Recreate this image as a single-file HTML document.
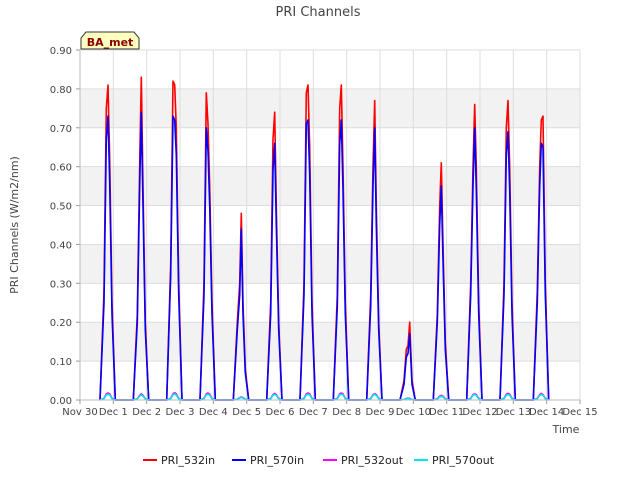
<!DOCTYPE html>
<html><head><meta charset="utf-8"><style>
body{margin:0;background:#fff;font-family:"DejaVu Sans","Liberation Sans",sans-serif}
svg text{font-family:"DejaVu Sans","Liberation Sans",sans-serif}
</style></head><body>
<svg id="c" width="640" height="480">
<rect x="0" y="0" width="640" height="480" fill="#fff"/>
<g id="bands"></g><g id="grid"></g><g id="series"></g><g id="axes"></g>
<text x="318" y="16" text-anchor="middle" font-size="13" fill="#444">PRI Channels</text>
<text x="566" y="433" text-anchor="middle" font-size="11" fill="#444">Time</text>
<text transform="translate(18,225) rotate(-90)" text-anchor="middle" font-size="11" fill="#444">PRI Channels (W/m2/nm)</text>
<g>
<path d="M81,49 L81,38 L86,32 L134,32 L139,38 L139,49 Z" fill="#ffffc0" stroke="#333" stroke-width="1"/>
<text x="110" y="46" text-anchor="middle" font-size="11" font-weight="bold" fill="#8b0000">BA_met</text>
</g>
<g id="legend"></g>
</svg>
<script>
const xTicks=["Nov 30","Dec 1","Dec 2","Dec 3","Dec 4","Dec 5","Dec 6","Dec 7","Dec 8","Dec 9","Dec 10","Dec 11","Dec 12","Dec 13","Dec 14","Dec 15"];
const yTicks=[0,0.1,0.2,0.3,0.4,0.5,0.6,0.7,0.8,0.9];
const dayCenters=[0.84,1.84,2.84,3.84,4.84,5.84,6.84,7.84,8.84,9.84,10.84,11.84,12.84,13.84];
const offsets=[-0.24,-0.12,-0.05,0,0.05,0.12,0.22];
const pri532in=[[0,0.28,0.75,0.81,0.62,0.25,0],[0,0.22,0.61,0.83,0.55,0.2,0],[0,0.35,0.82,0.81,0.7,0.3,0],[0,0.3,0.79,0.71,0.55,0.25,0],[0,0.2,0.3,0.48,0.25,0.08,0],[0,0.25,0.67,0.74,0.5,0.2,0],[0,0.3,0.79,0.81,0.65,0.25,0],[0,0.27,0.75,0.81,0.6,0.25,0],[0,0.27,0.6,0.77,0.5,0.2,0],[0,0.05,0.13,0.14,0.2,0.05,0],[0,0.22,0.5,0.61,0.4,0.15,0],[0,0.3,0.6,0.76,0.6,0.25,0],[0,0.3,0.7,0.77,0.6,0.25,0],[0,0.28,0.6,0.72,0.73,0.3,0]];
const pri570in=[[0,0.25,0.67,0.73,0.56,0.22,0],[0,0.2,0.55,0.74,0.5,0.18,0],[0,0.32,0.73,0.72,0.63,0.27,0],[0,0.27,0.7,0.64,0.5,0.22,0],[0,0.18,0.27,0.44,0.22,0.07,0],[0,0.22,0.59,0.66,0.45,0.18,0],[0,0.27,0.71,0.72,0.58,0.22,0],[0,0.24,0.66,0.72,0.54,0.22,0],[0,0.24,0.55,0.70,0.45,0.18,0],[0,0.04,0.11,0.12,0.17,0.04,0],[0,0.2,0.45,0.55,0.36,0.13,0],[0,0.27,0.55,0.70,0.54,0.22,0],[0,0.27,0.63,0.69,0.54,0.22,0],[0,0.25,0.55,0.66,0.65,0.27,0]];
const pri532out=[[0,0.004,0.016,0.018,0.016,0.004,0],[0,0.003,0.012,0.016,0.012,0.003,0],[0,0.004,0.016,0.019,0.016,0.004,0],[0,0.004,0.016,0.018,0.015,0.004,0],[0,0.002,0.006,0.008,0.006,0.002,0],[0,0.004,0.014,0.017,0.014,0.004,0],[0,0.004,0.016,0.018,0.016,0.004,0],[0,0.004,0.016,0.018,0.016,0.004,0],[0,0.004,0.014,0.016,0.014,0.004,0],[0,0.001,0.004,0.005,0.004,0.001,0],[0,0.003,0.01,0.012,0.01,0.003,0],[0,0.004,0.014,0.016,0.014,0.004,0],[0,0.004,0.015,0.017,0.015,0.004,0],[0,0.004,0.014,0.017,0.014,0.004,0]];
const pri570out=[[0,0.003,0.013,0.015,0.013,0.003,0],[0,0.003,0.01,0.013,0.01,0.003,0],[0,0.003,0.013,0.016,0.013,0.003,0],[0,0.003,0.013,0.015,0.012,0.003,0],[0,0.002,0.005,0.007,0.005,0.002,0],[0,0.003,0.012,0.014,0.012,0.003,0],[0,0.003,0.013,0.015,0.013,0.003,0],[0,0.003,0.013,0.015,0.013,0.003,0],[0,0.003,0.012,0.014,0.012,0.003,0],[0,0.001,0.003,0.004,0.003,0.001,0],[0,0.002,0.008,0.01,0.008,0.002,0],[0,0.003,0.012,0.014,0.012,0.003,0],[0,0.003,0.012,0.014,0.012,0.003,0],[0,0.003,0.012,0.014,0.012,0.003,0]];
const L=80,R=580,T=50,B=400;
const xs=d=>L+(d/15)*(R-L);
const ys=v=>B-(v/0.9)*(B-T);
const NS="http://www.w3.org/2000/svg";
function mk(tag,attrs,parent){const e=document.createElementNS(NS,tag);for(const k in attrs)e.setAttribute(k,attrs[k]);parent.appendChild(e);return e;}
const bands=document.getElementById('bands'),grid=document.getElementById('grid'),axes=document.getElementById('axes'),ser=document.getElementById('series'),leg=document.getElementById('legend');
mk('rect',{x:L,y:T,width:R-L,height:B-T,fill:'#fff'},bands);
for(let i=0;i<yTicks.length-1;i++){if(i%2===1){const r=mk('rect',{x:L,y:ys(yTicks[i+1]),width:R-L,height:ys(yTicks[i])-ys(yTicks[i+1]),fill:'#f2f2f2'},bands);}}
yTicks.forEach(v=>{const y=ys(v);
const g=mk('line',{x1:L,x2:R,y1:y,y2:y,stroke:'#ddd','stroke-width':1},grid);
const t=mk('text',{x:L-8,y:y+4,'text-anchor':'end','font-size':10,fill:'#444'},axes);t.textContent=v.toFixed(2);
mk('line',{x1:L-4,x2:L,y1:y,y2:y,stroke:'#999'},axes);});
xTicks.forEach((s,i)=>{const x=xs(i);
const g=mk('line',{x1:x,x2:x,y1:T,y2:B,stroke:'#ddd','stroke-width':1},grid);
mk('line',{x1:x,x2:x,y1:B,y2:B+4,stroke:'#999'},axes);
const t=mk('text',{x:x,y:B+15,'text-anchor':'middle','font-size':10,fill:'#444'},axes);t.textContent=s;});
mk('line',{x1:L,x2:L,y1:T,y2:B,stroke:'#bbb'},axes);
mk('line',{x1:L,x2:R,y1:B,y2:B,stroke:'#bbb'},axes);
const series=[["PRI_532in",pri532in,"#ff0000"],["PRI_570in",pri570in,"#0000ff"],["PRI_532out",pri532out,"#ff00ff"],["PRI_570out",pri570out,"#00e5ee"]];
series.forEach(([name,data,col])=>{let d="";
data.forEach((day,i)=>{day.forEach((v,j)=>{const x=xs(dayCenters[i]+offsets[j]);d+=(d===""?"M":"L")+x.toFixed(1)+","+ys(v).toFixed(1);});});
const p=mk('path',{d:d,fill:'none',stroke:col,'stroke-width':1.6,'stroke-linejoin':'round'},ser);

});
const lx=[143,232,323,414];
series.forEach(([name,data,col],i)=>{const g=mk('g',{},leg);


mk('line',{x1:lx[i],x2:lx[i]+14,y1:460,y2:460,stroke:col,'stroke-width':2},g);
const t=mk('text',{x:lx[i]+18,y:464,'font-size':11,fill:'#222'},g);t.textContent=name;});
</script>
</body></html>
